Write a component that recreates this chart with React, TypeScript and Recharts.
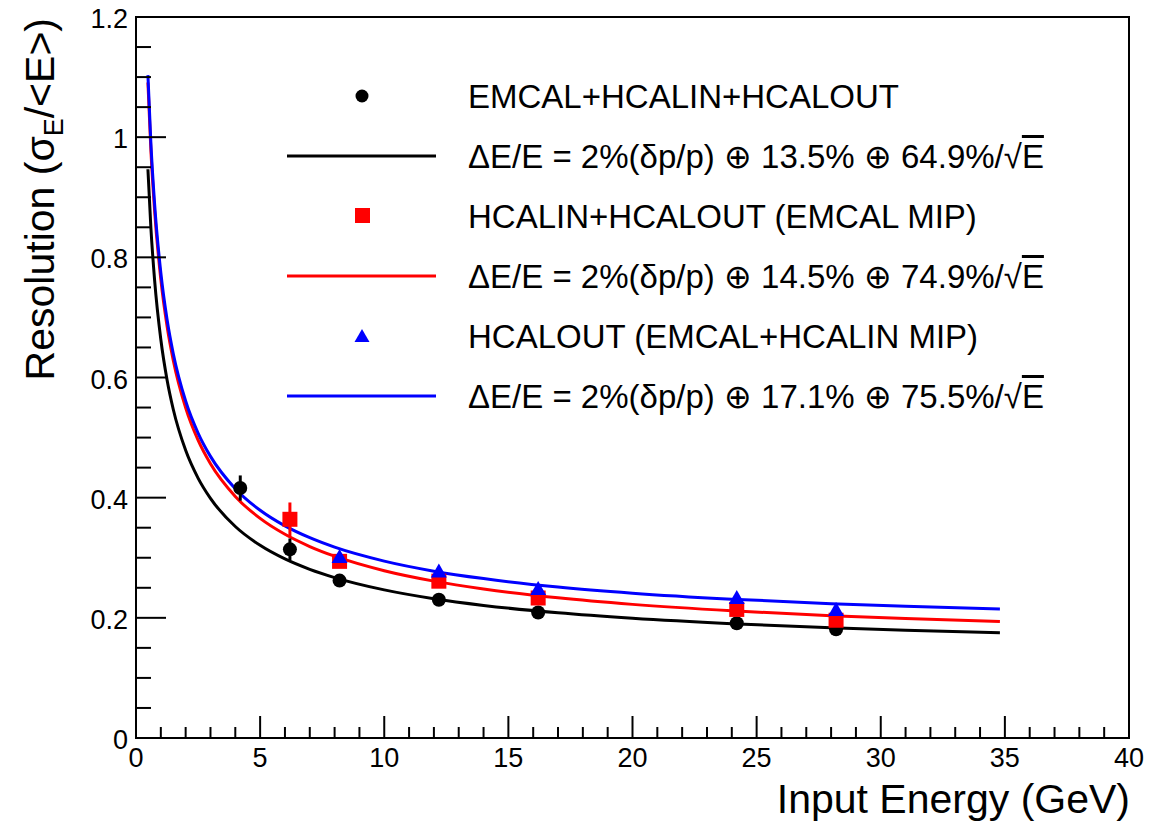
import React from 'react';
import { ComposedChart, Line, Scatter, XAxis, YAxis, ErrorBar, ReferenceArea } from 'recharts';

// ---- axis ticks ----
const xTicks = [0,1,2,3,4,5,6,7,8,9,10,11,12,13,14,15,16,17,18,19,20,21,22,23,24,25,26,27,28,29,30,31,32,33,34,35,36,37,38,39,40];
const xMajor = [0,5,10,15,20,25,30,35,40];
const xMajorLabels = ['0','5','10','15','20','25','30','35','40'];
const yTicks = [0,0.05,0.1,0.15,0.2,0.25,0.3,0.35,0.4,0.45,0.5,0.55,0.6,0.65,0.7,0.75,0.8,0.85,0.9,0.95,1,1.05,1.1,1.15,1.2];
const yMajor = [0,0.2,0.4,0.6,0.8,1,1.2];
const yMajorLabels = ['0','0.2','0.4','0.6','0.8','1','1.2'];

// ---- measured points ----
const blackE = [4.2,6.2,8.2,12.2,16.2,24.2,28.2];
const blackRes = [0.416,0.314,0.262,0.230,0.209,0.191,0.181];
const blackErr = [0.021,0.018,0.006,0.005,0.005,0.005,0.005];

const redE = [6.2,8.2,12.2,16.2,24.2,28.2];
const redRes = [0.364,0.294,0.261,0.233,0.214,0.196];
const redErr = [0.028,0.006,0.005,0.005,0.005,0.005];

const blueE = [8.2,12.2,16.2,24.2,28.2];
const blueRes = [0.302,0.278,0.249,0.234,0.214];
const blueErr = [0.005,0.005,0.005,0.005,0.005];

// ---- fit curves ----
const fitE = [0.48,0.6,0.75,1,1.25,1.5,2,2.5,3,4,5,6,7,8,10,12,14,17,20,24,28,31,34.8];
const blackFit = [0.9466,0.8489,0.7617,0.6632,0.5963,0.5472,0.4788,0.4326,0.3988,0.3520,0.3207,0.2980,0.2807,0.2670,0.2465,0.2318,0.2207,0.2083,0.1992,0.1902,0.1835,0.1795,0.1753];
const redFit = [1.0910,0.9780,0.8772,0.7632,0.6857,0.6288,0.5495,0.4958,0.4565,0.4021,0.3655,0.3390,0.3187,0.3026,0.2784,0.2611,0.2480,0.2333,0.2224,0.2117,0.2036,0.1988,0.1938];
const blueFit = [1.1033,0.9898,0.8886,0.7744,0.6969,0.6400,0.5609,0.5076,0.4687,0.4149,0.3790,0.3530,0.3333,0.3176,0.2944,0.2777,0.2653,0.2513,0.2411,0.2311,0.2236,0.2192,0.2145];

// ---- legend ----
const legendPoints = ['EMCAL+HCALIN+HCALOUT','HCALIN+HCALOUT (EMCAL MIP)','HCALOUT (EMCAL+HCALIN MIP)'];
const legendFits = [
  'ΔE/E = 2%(δp/p) ⊕ 13.5% ⊕ 64.9%/',
  'ΔE/E = 2%(δp/p) ⊕ 14.5% ⊕ 74.9%/',
  'ΔE/E = 2%(δp/p) ⊕ 17.1% ⊕ 75.5%/',
];
const seriesColors = ['#000000','#ff0000','#0000ff'];

const pts = (xs: number[], ys: number[], es: number[]) => xs.map((x, i) => ({ x, y: ys[i], err: es[i] }));
const curve = (xs: number[], ys: number[]) => xs.map((x, i) => ({ x, y: ys[i] }));

const blackPts = pts(blackE, blackRes, blackErr);
const redPts = pts(redE, redRes, redErr);
const bluePts = pts(blueE, blueRes, blueErr);
const blackCurve = curve(fitE, blackFit);
const redCurve = curve(fitE, redFit);
const blueCurve = curve(fitE, blueFit);

const FONT = '"Liberation Sans", Arial, Helvetica, sans-serif';

const YTick = (props: any) => {
  const { x, y, payload } = props;
  const v = payload.value;
  const idx = yMajor.findIndex((m) => Math.abs(m - v) < 1e-6);
  const major = idx >= 0;
  return (
    <g>
      <line x1={x} y1={y} x2={x + (major ? 30 : 15)} y2={y} stroke="#000" strokeWidth={2} />
      {major && (
        <text x={x - 8} y={y + 11} textAnchor="end" fontSize={27} fontFamily={FONT} fill="#000">
          {yMajorLabels[idx]}
        </text>
      )}
    </g>
  );
};

const XTick = (props: any) => {
  const { x, y, payload } = props;
  const v = payload.value;
  const idx = xMajor.findIndex((m) => Math.abs(m - v) < 1e-6);
  const major = idx >= 0;
  return (
    <g>
      <line x1={x} y1={y} x2={x} y2={y - (major ? 22 : 11)} stroke="#000" strokeWidth={2} />
      {major && (
        <text x={x} y={y + 29} textAnchor="middle" fontSize={27} fontFamily={FONT} fill="#000">
          {xMajorLabels[idx]}
        </text>
      )}
    </g>
  );
};

const Circle = (p: any) => <circle cx={p.cx} cy={p.cy} r={7} fill="#000" />;
const Square = (p: any) => <rect x={p.cx - 7.5} y={p.cy - 7.5} width={15} height={15} fill="#ff0000" />;
const Triangle = (p: any) => (
  <polygon points={`${p.cx},${p.cy - 7.5} ${p.cx - 8},${p.cy + 6.5} ${p.cx + 8},${p.cy + 6.5}`} fill="#0000ff" />
);

const rowBase = [108, 168, 228, 288, 348, 408];

export default function App() {
  return (
    <div style={{ position: 'fixed', left: 0, top: 0, width: 1170, height: 822, overflow: 'hidden', background: '#fff' }}>
      <ComposedChart width={1170} height={822} margin={{ top: 17, right: 41, bottom: 0, left: 0 }}>
        <XAxis
          type="number"
          dataKey="x"
          domain={[0, 40]}
          ticks={xTicks}
          interval={0}
          tickSize={0}
          tickMargin={0}
          tickLine={false}
          axisLine={false}
          height={84}
          tick={<XTick />}
          allowDataOverflow
        />
        <YAxis
          type="number"
          dataKey="y"
          domain={[0, 1.2]}
          ticks={yTicks}
          interval={0}
          tickSize={0}
          tickMargin={0}
          tickLine={false}
          axisLine={false}
          width={136}
          tick={<YTick />}
          allowDataOverflow
        />
        <ReferenceArea x1={0} x2={40} y1={0} y2={1.2} fill="none" stroke="#000" strokeWidth={2} fillOpacity={0} />
        <Line data={blackCurve} dataKey="y" type="monotone" stroke="#000000" strokeWidth={3} dot={false} isAnimationActive={false} />
        <Line data={redCurve} dataKey="y" type="monotone" stroke="#ff0000" strokeWidth={3} dot={false} isAnimationActive={false} />
        <Line data={blueCurve} dataKey="y" type="monotone" stroke="#0000ff" strokeWidth={3} dot={false} isAnimationActive={false} />
        <Scatter data={blackPts} dataKey="y" shape={<Circle />} isAnimationActive={false}>
          <ErrorBar dataKey="err" direction="y" width={0} stroke="#000000" strokeWidth={3} />
        </Scatter>
        <Scatter data={redPts} dataKey="y" shape={<Square />} isAnimationActive={false}>
          <ErrorBar dataKey="err" direction="y" width={0} stroke="#ff0000" strokeWidth={3} />
        </Scatter>
        <Scatter data={bluePts} dataKey="y" shape={<Triangle />} isAnimationActive={false}>
          <ErrorBar dataKey="err" direction="y" width={0} stroke="#0000ff" strokeWidth={3} />
        </Scatter>
      </ComposedChart>

      <svg width={1170} height={822} style={{ position: 'absolute', left: 0, top: 0, pointerEvents: 'none' }}>
        <text x={1130} y={813} textAnchor="end" fontSize={41} fontFamily={FONT} fill="#000">Input Energy (GeV)</text>
        <text transform="translate(54, 18) rotate(-90)" textAnchor="end" fontSize={41} fontFamily={FONT} fill="#000">
          Resolution (σ<tspan dy={9} fontSize={27}>E</tspan><tspan dy={-9}>/&lt;E&gt;)</tspan>
        </text>
        {/* legend symbols */}
        <circle cx={362} cy={rowBase[0] - 12} r={6.5} fill={seriesColors[0]} />
        <line x1={287} x2={436} y1={rowBase[1] - 12} y2={rowBase[1] - 12} stroke={seriesColors[0]} strokeWidth={3} />
        <rect x={355} y={rowBase[2] - 20} width={15} height={15} fill={seriesColors[1]} />
        <line x1={287} x2={436} y1={rowBase[3] - 12} y2={rowBase[3] - 12} stroke={seriesColors[1]} strokeWidth={3} />
        <polygon points={`362,${rowBase[4] - 19} 354.5,${rowBase[4] - 6} 369.5,${rowBase[4] - 6}`} fill={seriesColors[2]} />
        <line x1={287} x2={436} y1={rowBase[5] - 12} y2={rowBase[5] - 12} stroke={seriesColors[2]} strokeWidth={3} />
      </svg>

      {[0, 1, 2].map((i) => (
        <React.Fragment key={i}>
          <div style={{ position: 'absolute', left: 468, top: rowBase[2 * i] - 27, fontSize: 33, lineHeight: '32px', fontFamily: FONT, color: '#000', whiteSpace: 'nowrap' }}>
            {legendPoints[i]}
          </div>
          <div style={{ position: 'absolute', left: 468, top: rowBase[2 * i + 1] - 27, fontSize: 33, lineHeight: '32px', fontFamily: FONT, color: '#000', whiteSpace: 'nowrap' }}>
            {legendFits[i]}√<span style={{ textDecoration: 'overline' }}>E</span>
          </div>
        </React.Fragment>
      ))}
    </div>
  );
}
